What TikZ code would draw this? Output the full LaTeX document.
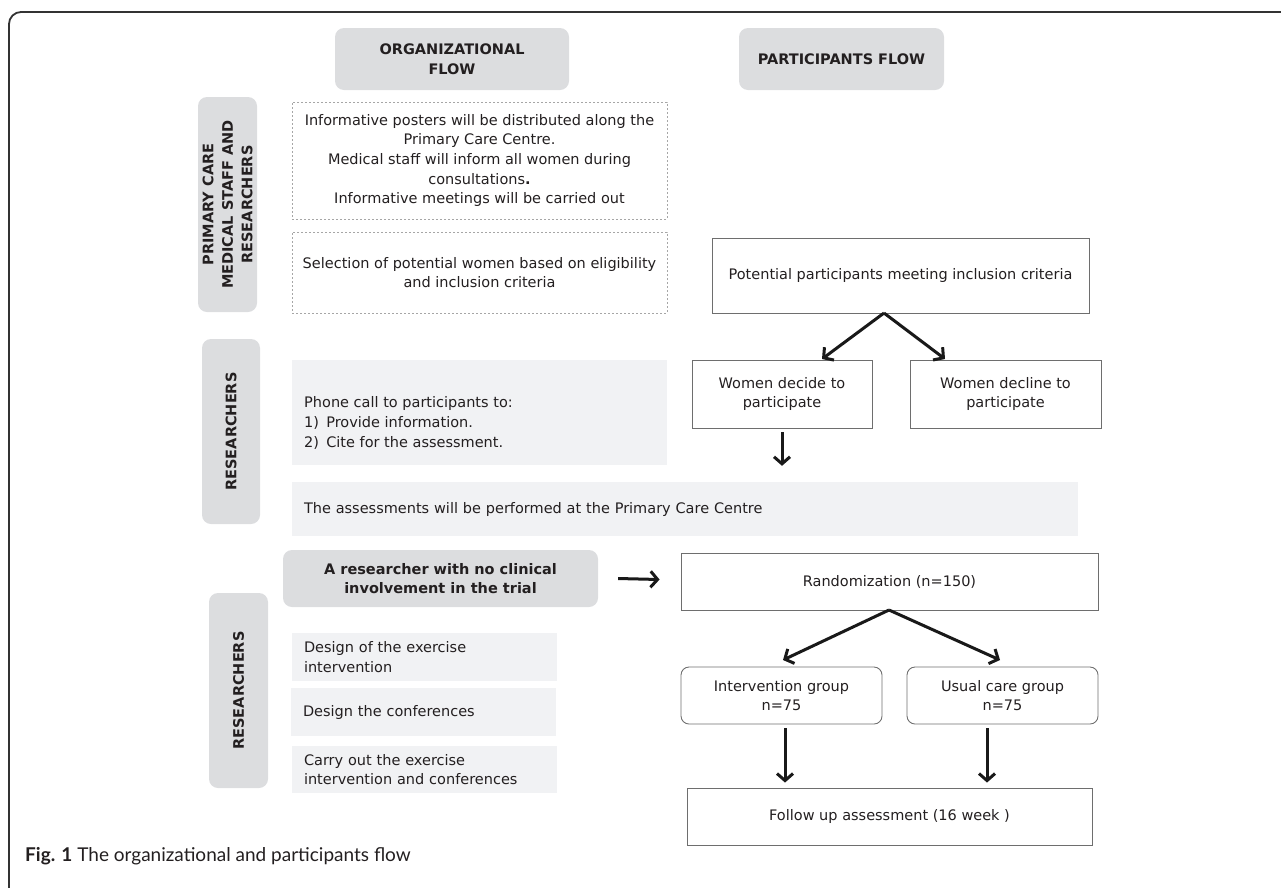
\documentclass[tikz,border=0pt]{standalone}
\usepackage{fontspec}
\setmainfont{DejaVu Sans}
\newfontfamily\capfont{Lato}
\usetikzlibrary{arrows.meta,calc}
\definecolor{hdr}{HTML}{DCDDDF}
\definecolor{band}{HTML}{F1F2F4}
\definecolor{txt}{HTML}{231F20}
\definecolor{edge}{HTML}{6E6E6E}
\definecolor{dashc}{HTML}{A6A6A6}
\begin{document}
\begin{tikzpicture}[x=1pt,y=-1pt,
  every node/.style={text=txt},
  base/.style={font=\fontsize{14.5}{19.7}\selectfont, inner sep=0pt},
  hdrbox/.style={base, fill=hdr, rounded corners=9pt, align=center, font=\fontsize{14.5}{19.5}\selectfont\bfseries},
  dashbox/.style={base, draw=dashc, line width=0.8pt, dash pattern=on 2pt off 2pt, align=center},
  plainbox/.style={base, draw=edge, line width=0.9pt, align=center},
  roundbox/.style={plainbox, rounded corners=8pt},
  bandbox/.style={base, fill=band, align=left, inner xsep=12pt},
  arr/.style={line width=3pt, draw=black!90, -{Straight Barb[length=7pt,width=16pt]}},
  frame/.style={line width=1.8pt, draw=black!80, rounded corners=12pt}
]
\useasboundingbox (0,0) rectangle (1281,887);
\draw[frame] (9,895) -- (9,12) -- (1290,12);

% headers
\node[hdrbox, minimum width=234pt, minimum height=62pt] (orgh) at (452,59) {ORGANIZATIONAL\\FLOW};
\node[hdrbox, minimum width=205pt, minimum height=62pt] (parth) at (841.5,59) {PARTICIPANTS FLOW};

% left vertical labels
\node[hdrbox, rotate=90, minimum width=215pt, minimum height=59pt] (pcs) at (227.5,204.5) {PRIMARY CARE\\MEDICAL STAFF AND\\RESEARCHERS};
\node[hdrbox, rotate=90, minimum width=185pt, minimum height=58pt] (res1) at (231,431.5) {RESEARCHERS};
\node[hdrbox, rotate=90, minimum width=195pt, minimum height=59pt] (res2) at (238.5,690.5) {RESEARCHERS};

% organizational flow
\node[dashbox, minimum width=375pt, minimum height=117pt] (info) at (479.5,160.5)
  {Informative posters will be distributed along the\\Primary Care Centre.\\Medical staff will inform all women during\\consultations\textbf{.}\\Informative meetings will be carried out};
\node[dashbox, minimum width=375pt, minimum height=81pt] (sel) at (479.5,272.5)
  {Selection of potential women based on eligibility\\and inclusion criteria};
\node[bandbox, minimum width=375pt, minimum height=105pt] (phone) at (479.5,412.5) {};
\node[base, anchor=west, align=left] (phonetxt) at (304,423)
  {Phone call to participants to:\\1)\hspace{0.5em}Provide information.\\2)\hspace{0.5em}Cite for the assessment.};
\node[bandbox, text width=762pt, minimum height=54pt] (assess) at (685,509)
  {The assessments will be performed at the Primary Care Centre};
\node[hdrbox, minimum width=315pt, minimum height=57pt] (resr) at (440.5,578.5)
  {A researcher with no clinical\\involvement in the trial};
\node[bandbox, text width=241pt, minimum height=48pt] (des1) at (424.5,657)
  {Design of the exercise\\intervention};
\node[bandbox, text width=241pt, minimum height=48pt] (des2) at (423.5,712)
  {Design the conferences};
\node[bandbox, text width=241pt, minimum height=47pt] (carry) at (424.5,769.5)
  {Carry out the exercise\\intervention and conferences};

% participants flow
\node[plainbox, minimum width=377pt, minimum height=75pt] (pot) at (900.5,275.5)
  {Potential participants meeting inclusion criteria};
\node[plainbox, minimum width=180pt, minimum height=68pt] (decide) at (782,394)
  {Women decide to\\participate};
\node[plainbox, minimum width=191pt, minimum height=68pt] (decline) at (1005.5,394)
  {Women decline to\\participate};
\node[plainbox, minimum width=417pt, minimum height=57pt] (rand) at (889.5,581.5)
  {Randomization (n=150)};
\node[roundbox, minimum width=201pt, minimum height=57pt] (interv) at (781.5,695.5)
  {Intervention group\\n=75};
\node[roundbox, minimum width=191pt, minimum height=57pt] (usual) at (1002.5,695.5)
  {Usual care group\\n=75};
\node[plainbox, minimum width=405pt, minimum height=57pt] (follow) at (889.5,816.5)
  {Follow up assessment (16 week )};

% connectors
\coordinate (pa) at (884,313);
\coordinate (pl) at (822,359);
\coordinate (pr) at (945,359);
\draw[arr] (pa) -- (pl);
\draw[arr] (pa) -- (pr);
\draw[arr] ($(decide.south)+(0,4)$) -- ($(assess.north -| decide.south)+(0,-16)$);
\draw[arr] ($(resr.east)+(20,0)$) -- ($(rand.west)+(-21,-2)$);
\coordinate (ra) at (889,610);
\coordinate (rl) at (783,660);
\coordinate (rr) at (1000,660);
\draw[arr] (ra) -- (rl);
\draw[arr] (ra) -- (rr);
\draw[arr] ($(interv.south)+(3.5,4)$) -- ($(follow.north -| interv.south)+(3.5,-5)$);
\draw[arr] ($(usual.south)+(-15.5,4)$) -- ($(follow.north -| usual.south)+(-15.5,-5)$);

% caption
\node[anchor=base west, inner sep=0pt, font=\capfont\fontsize{19}{22}\selectfont] (cap) at (25,861)
  {\textbf{Fig. 1} The organizational and participants flow};
\end{tikzpicture}
\end{document}
